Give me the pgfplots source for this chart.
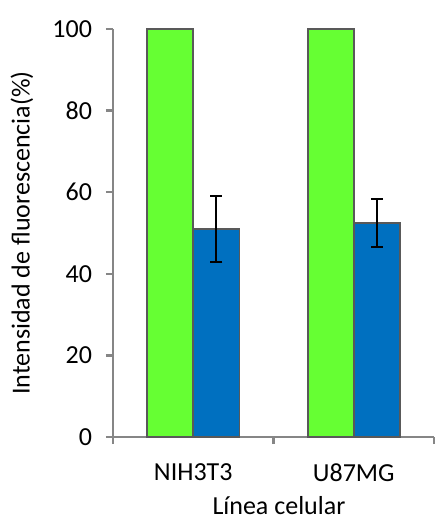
\documentclass[border=0pt]{standalone}
\usepackage{pgfplots}
\pgfplotsset{compat=1.18}
\usepackage{fontspec}
\setmainfont{Carlito}
\definecolor{bargreen}{HTML}{66FF33}
\definecolor{barblue}{HTML}{0070C0}
\definecolor{edgegray}{HTML}{595959}
\definecolor{axgray}{HTML}{868686}
\begin{document}
\fontsize{13}{15}\selectfont
\begin{tikzpicture}
\path[use as bounding box] (-56.5pt,-40.5pt) rectangle (160.5pt,218.5pt);
\begin{axis}[
  scale only axis, width=160.5pt, height=204pt,
  at={(0pt,0pt)}, anchor=south west,
  xmin=-0.5, xmax=1.5, ymin=0, ymax=100,
  axis x line=bottom, axis y line=left,
  axis line style={-, draw=axgray, line width=1.2pt},
  ybar=0pt, bar width=23pt,
  xtick={-0.5,0.5,1.5}, xticklabels={},
  extra x ticks={0,1}, extra x tick labels={NIH3T3,U87MG},
  extra x tick style={major tick length=0pt, tick style={draw=none},
    xticklabel style={font=\fontsize{13}{15}\selectfont, anchor=north, yshift=-9pt}},
  ytick={0,20,40,60,80,100},
  tick align=outside, major tick length=3.5pt,
  tick style={draw=axgray, line width=1.2pt},
  yticklabel style={font=\fontsize{13}{15}\selectfont, xshift=-2.5pt},
  /pgf/number format/assume math mode=true,
  every axis y label/.style={at={(axis description cs:-0.2835,0.5)}, rotate=90, anchor=center, font=\fontsize{13}{15}\selectfont},
  every axis x label/.style={at={(axis description cs:0.517,-0.189)}, anchor=base, font=\fontsize{13}{15}\selectfont},
  ylabel={Intensidad de fluorescencia(\%)},
  xlabel={Línea celular},
  clip=false,
]
\addplot[fill=bargreen, draw=edgegray, line width=0.75pt] coordinates {(0,100) (1,100)};
\addplot[fill=barblue, draw=edgegray, line width=0.75pt,
  error bars/.cd, y dir=both, y explicit,
  error bar style={black, line width=1pt},
  error mark options={rotate=90, mark size=3pt, black, line width=1pt}]
  coordinates {(0,51) +- (0,8) (1,52.5) +- (0,5.85)};
\end{axis}
\end{tikzpicture}
\end{document}
